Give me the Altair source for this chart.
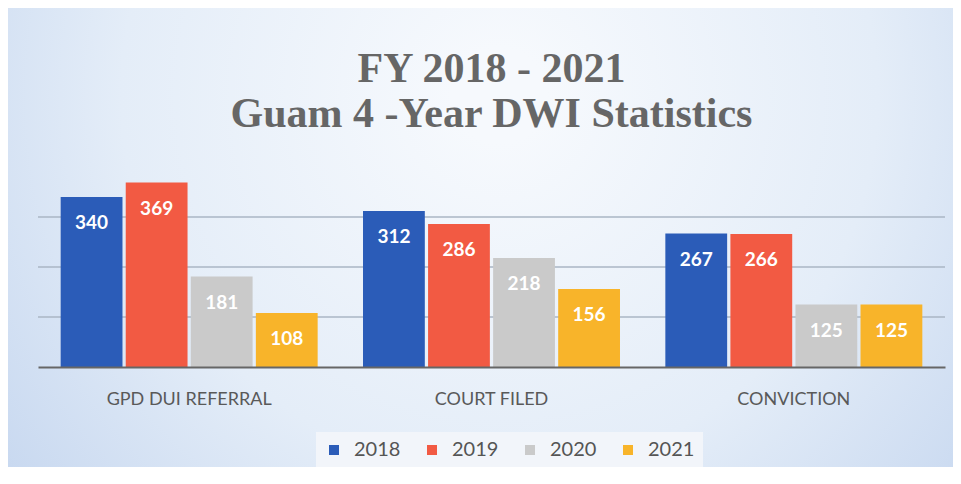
import altair as alt
import pandas as pd

categories = ["GPD DUI REFERRAL", "COURT FILED", "CONVICTION"]
years = ["2018", "2019", "2020", "2021"]
v2018 = [340, 312, 267]
v2019 = [369, 286, 266]
v2020 = [181, 218, 125]
v2021 = [108, 156, 125]
grid_values = [100, 200, 300]
colors = ["#2b5cb8", "#f25a43", "#cacaca", "#f8b42a"]

series = [v2018, v2019, v2020, v2021]
rows = []
for ci, c in enumerate(categories):
    for yi, yr in enumerate(years):
        rows.append({"category": c, "year": yr, "value": series[yi][ci]})
df = pd.DataFrame(rows)

W, H = 907, 200
PAD = {"left": 30, "top": 159, "right": 8, "bottom": 100}

bg = alt.Chart(pd.DataFrame({"k": [0]})).mark_rect(
    fill=alt.Gradient(
        gradient="radial",
        stops=[alt.GradientStop(color="#f6f9fd", offset=0),
               alt.GradientStop(color="#e4edf8", offset=0.5),
               alt.GradientStop(color="#bed1ed", offset=1)],
        x1=0.52, y1=0.35, x2=0.52, y2=0.35, r1=0.05, r2=0.75,
    )
).encode(
    x=alt.value(-PAD["left"]), x2=alt.value(W + PAD["right"]),
    y=alt.value(-PAD["top"]), y2=alt.value(H + PAD["bottom"]),
)

grid = alt.Chart(pd.DataFrame({"g": grid_values})).mark_rule(
    color="#aab6c4", strokeWidth=1.5
).encode(y=alt.Y("g:Q", axis=None, scale=alt.Scale(domain=[0, 400])))

base = alt.Chart(df).encode(
    x=alt.X(
        "category:N", sort=categories,
        scale=alt.Scale(paddingInner=0.15, paddingOuter=0.075),
        axis=alt.Axis(title=None, labelAngle=0, labelFont="Lato", labelFontSize=18,
                      labelColor="#595959", labelPadding=23, ticks=False,
                      domainColor="#666666", domainWidth=2, zindex=1),
    ),
    xOffset=alt.XOffset("year:N", sort=years, scale=alt.Scale(paddingInner=0.05)),
)

bars = base.mark_bar().encode(
    y=alt.Y("value:Q", scale=alt.Scale(domain=[0, 400]), axis=None),
    color=alt.Color(
        "year:N", sort=years,
        scale=alt.Scale(domain=years, range=colors),
        legend=alt.Legend(
            title=None, orient="none", direction="horizontal",
            legendX=278, legendY=265, symbolType="square", symbolSize=100,
            symbolStrokeWidth=0, labelFont="Lato", labelFontSize=20,
            labelColor="#555555", labelOffset=10, columnPadding=21,
            fillColor="#f2f5fa", padding=8,
        ),
    ),
)

labels = base.mark_text(
    font="Lato", fontSize=19, fontWeight="bold", color="white",
    baseline="middle", dy=26,
).encode(y=alt.Y("value:Q"), text=alt.Text("value:Q"))

chart = alt.layer(bg, grid, bars, labels).properties(
    width=W, height=H,
    padding=PAD,
    autosize=alt.AutoSizeParams(type="none"),
    background="#e2eaf5",
    title=alt.TitleParams(
        text=["FY 2018 - 2021", "Guam 4 -Year DWI Statistics"],
        font="Liberation Serif", fontSize=42, fontWeight="bold",
        color="#666666", lineHeight=45, anchor="middle", offset=-128,
    ),
).configure_view(stroke=None)

chart.save("out.html", embed_options={"renderer": "svg", "actions": False})
